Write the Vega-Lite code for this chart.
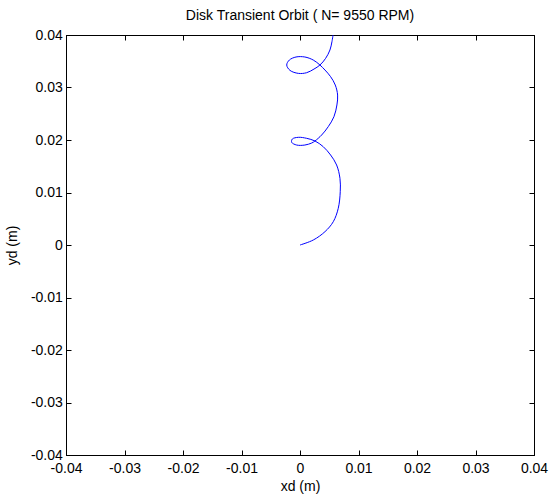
{
  "$schema": "https://vega.github.io/schema/vega-lite/v6.json",
  "width": 468,
  "height": 420,
  "autosize": {"type": "none"},
  "padding": {"left": 66, "top": 35, "right": 16, "bottom": 42},
  "background": "white",
  "title": {"text": "Disk Transient Orbit ( N= 9550 RPM)", "font": "Liberation Sans", "fontSize": 14, "fontWeight": "normal", "color": "black", "offset": 5},
  "config": {
    "view": {"stroke": "black", "strokeWidth": 1},
    "axis": {"grid": false, "domainColor": "black", "tickColor": "black", "labelColor": "black", "titleColor": "black", "labelFont": "Liberation Sans", "titleFont": "Liberation Sans", "labelFontSize": 14, "titleFontSize": 14, "titleFontWeight": "normal", "tickSize": -5}
  },
  "data": {"values": [
    {"o": 1, "x": 0.0, "y": 0.0},
    {"o": 2, "x": 0.00227, "y": 0.00095},
    {"o": 3, "x": 0.00427, "y": 0.00254},
    {"o": 4, "x": 0.00569, "y": 0.00444},
    {"o": 5, "x": 0.00654, "y": 0.00699},
    {"o": 6, "x": 0.00688, "y": 0.01015},
    {"o": 7, "x": 0.00683, "y": 0.0127},
    {"o": 8, "x": 0.00626, "y": 0.01524},
    {"o": 9, "x": 0.00523, "y": 0.01714},
    {"o": 10, "x": 0.00398, "y": 0.01872},
    {"o": 11, "x": 0.00256, "y": 0.01981},
    {"o": 12, "x": 0.00114, "y": 0.02032},
    {"o": 13, "x": -0.00028, "y": 0.02051},
    {"o": 14, "x": -0.00131, "y": 0.02019},
    {"o": 15, "x": -0.00142, "y": 0.01955},
    {"o": 16, "x": -0.00057, "y": 0.01904},
    {"o": 17, "x": 0.00083, "y": 0.01904},
    {"o": 18, "x": 0.00199, "y": 0.01942},
    {"o": 19, "x": 0.00256, "y": 0.01981},
    {"o": 20, "x": 0.0037, "y": 0.02095},
    {"o": 21, "x": 0.00483, "y": 0.02254},
    {"o": 22, "x": 0.0058, "y": 0.02443},
    {"o": 23, "x": 0.00631, "y": 0.02667},
    {"o": 24, "x": 0.00643, "y": 0.02856},
    {"o": 25, "x": 0.00603, "y": 0.03047},
    {"o": 26, "x": 0.00523, "y": 0.03206},
    {"o": 27, "x": 0.00427, "y": 0.03333},
    {"o": 28, "x": 0.00341, "y": 0.03428},
    {"o": 29, "x": 0.00227, "y": 0.03523},
    {"o": 30, "x": 0.00083, "y": 0.03581},
    {"o": 31, "x": -0.00068, "y": 0.03581},
    {"o": 32, "x": -0.00182, "y": 0.03523},
    {"o": 33, "x": -0.00227, "y": 0.03428},
    {"o": 34, "x": -0.00171, "y": 0.03326},
    {"o": 35, "x": -0.00028, "y": 0.03269},
    {"o": 36, "x": 0.00114, "y": 0.03282},
    {"o": 37, "x": 0.00239, "y": 0.03351},
    {"o": 38, "x": 0.00341, "y": 0.03428},
    {"o": 39, "x": 0.00438, "y": 0.03555},
    {"o": 40, "x": 0.00512, "y": 0.03714},
    {"o": 41, "x": 0.00546, "y": 0.03872},
    {"o": 42, "x": 0.00569, "y": 0.0403}
  ]},
  "layer": [
    {
      "mark": {"type": "line", "color": "blue", "strokeWidth": 1, "clip": true, "interpolate": "catmull-rom"},
      "encoding": {
        "order": {"field": "o", "type": "quantitative"},
        "x": {"field": "x", "type": "quantitative", "scale": {"domain": [-0.04, 0.04], "nice": false, "zero": false},
          "axis": {"orient": "bottom", "title": "xd (m)", "values": [-0.04, -0.03, -0.02, -0.01, 0, 0.01, 0.02, 0.03, 0.04], "labelExpr": "replace(format(datum.value, '.2~f'), '\u2212', '-')", "labelPadding": 11.5, "titlePadding": 4, "labelFlush": false}},
        "y": {"field": "y", "type": "quantitative", "scale": {"domain": [-0.04, 0.04], "nice": false, "zero": false},
          "axis": {"orient": "left", "title": "yd (m)", "values": [-0.04, -0.03, -0.02, -0.01, 0, 0.01, 0.02, 0.03, 0.04], "labelExpr": "replace(format(datum.value, '.2~f'), '\u2212', '-')", "labelPadding": 8.7, "titlePadding": 11, "labelFlush": false}}
      }
    },
    {
      "mark": {"type": "line", "strokeOpacity": 0, "clip": true},
      "encoding": {
        "order": {"field": "o", "type": "quantitative"},
        "x": {"field": "x", "type": "quantitative", "scale": {"domain": [-0.04, 0.04], "nice": false, "zero": false},
          "axis": {"orient": "top", "title": null, "labels": false, "values": [-0.04, -0.03, -0.02, -0.01, 0, 0.01, 0.02, 0.03, 0.04]}},
        "y": {"field": "y", "type": "quantitative", "scale": {"domain": [-0.04, 0.04], "nice": false, "zero": false},
          "axis": {"orient": "right", "title": null, "labels": false, "values": [-0.04, -0.03, -0.02, -0.01, 0, 0.01, 0.02, 0.03, 0.04]}}
      }
    }
  ],
  "resolve": {"axis": {"x": "independent", "y": "independent"}}
}
